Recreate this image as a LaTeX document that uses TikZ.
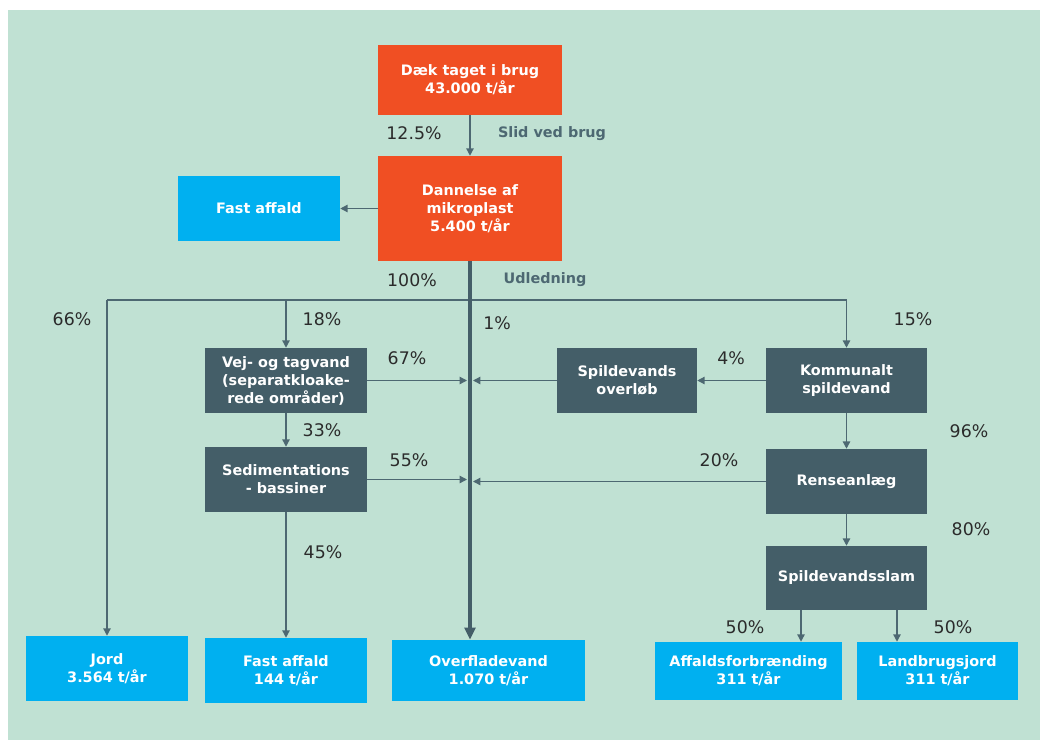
\documentclass[tikz,border=0pt]{standalone}
\usepackage{fontspec}
\setmainfont{DejaVu Sans}
\usetikzlibrary{arrows.meta,calc}
\definecolor{bg}{HTML}{C0E1D3}
\definecolor{orng}{HTML}{F04F23}
\definecolor{blu}{HTML}{00B0F0}
\definecolor{slate}{HTML}{445E68}
\definecolor{ln}{HTML}{4D6872}
\definecolor{pct}{HTML}{2B2B2B}
\tikzset{
  box/.style={inner sep=0pt, text=white, align=center, font=\fontsize{10.8}{13.5}\selectfont\bfseries},
  obox/.style={box, fill=orng, minimum width=138pt},
  bbox/.style={box, fill=blu},
  dbox/.style={box, fill=slate},
  arr/.style={draw=ln, line width=1pt, -{Triangle[length=5.5pt,width=5.5pt]}},
  thick arr/.style={draw=slate, line width=3.6pt, -{Triangle[length=9pt,width=8pt]}},
  pc/.style={text=pct, font=\fontsize{13}{15}\selectfont, inner sep=0pt},
  lbl/.style={text=ln, font=\fontsize{10.8}{13.5}\selectfont\bfseries, inner sep=0pt},
}
\begin{document}
\begin{tikzpicture}[x=0.75pt,y=-0.75pt]
\useasboundingbox (0,0) rectangle (1040,740);
\fill[bg] (8,10) rectangle (1040,740);

% boxes
\node[obox, minimum height=52.5pt] (dak) at (470,80) {Dæk taget i brug\\43.000 t/år};
\node[obox, minimum height=78.75pt] (dan) at (470,208.5) {Dannelse af\\mikroplast\\5.400 t/år};
\node[bbox, minimum width=121.5pt, minimum height=48.75pt] (fa1) at (259,208.5) {Fast affald};
\node[dbox, minimum width=121.5pt, minimum height=48.75pt] (vej) at (286,380.5) {Vej- og tagvand\\(separatkloake-\\rede områder)};
\node[dbox, minimum width=121.5pt, minimum height=48.75pt] (sed) at (286,479.5) {Sedimentations\\- bassiner};
\node[dbox, minimum width=105pt, minimum height=48.75pt] (spo) at (627,380.5) {Spildevands\\overløb};
\node[dbox, minimum width=120.75pt, minimum height=48.75pt] (kom) at (846.5,380.5) {Kommunalt\\spildevand};
\node[dbox, minimum width=120.75pt, minimum height=48.75pt] (ren) at (846.5,481.5) {Renseanlæg};
\node[dbox, minimum width=120.75pt, minimum height=48pt] (slam) at (846.5,578) {Spildevandsslam};
\node[bbox, minimum width=121.5pt, minimum height=48.75pt] (jord) at (107,668.5) {Jord\\3.564 t/år};
\node[bbox, minimum width=121.5pt, minimum height=48.75pt] (fa2) at (286,670.5) {Fast affald\\144 t/år};
\node[bbox, minimum width=144.75pt, minimum height=45.75pt] (ofv) at (488.5,670.5) {Overfladevand\\1.070 t/år};
\node[bbox, minimum width=140.25pt, minimum height=43.5pt] (aff) at (748.5,671) {Affaldsforbrænding\\311 t/år};
\node[bbox, minimum width=120.75pt, minimum height=43.5pt] (land) at (937.5,671) {Landbrugsjord\\311 t/år};

% connectors
\draw[arr] (dak.south) -- (dan.north);
\draw[arr] (dan.west) -- (fa1.east);
\coordinate (bus) at (0,300);
\draw[draw=ln, line width=1pt] (jord.north |- bus) -- (kom.north |- bus);
\draw[arr] (jord.north |- bus) -- (jord.north);
\draw[arr] (vej.north |- bus) -- (vej.north);
\draw[arr] (kom.north |- bus) -- (kom.north);
\draw[thick arr] (dan.south) -- (dan.south |- ofv.north);
\draw[arr] (vej.east) -- ($(dan.south |- vej.east)+(-3,0)$);
\draw[arr] (spo.west) -- ($(dan.south |- spo.west)+(3,0)$);
\draw[arr] (kom.west) -- (spo.east);
\draw[arr] (vej.south) -- (sed.north);
\draw[arr] (sed.east) -- ($(dan.south |- sed.east)+(-3,0)$);
\draw[arr] (ren.west) -- ($(dan.south |- ren.west)+(3,0)$);
\draw[arr] (kom.south) -- (ren.north);
\draw[arr] (ren.south) -- (slam.north);
\draw[arr] (sed.south) -- (fa2.north);
\coordinate (s1) at ($(slam.south)+(-45.5,0)$);
\coordinate (s2) at ($(slam.south)+(50.5,0)$);
\draw[arr] (s1) -- (s1 |- aff.north);
\draw[arr] (s2) -- (s2 |- land.north);

% labels
\node[pc] (p125) at (414,133) {12.5\%};
\node[lbl] (slid) at (552,134) {Slid ved brug};
\node[pc] (p100) at (412,280) {100\%};
\node[lbl] (udl) at (545,280) {Udledning};
\node[pc] (p66) at (72,319) {66\%};
\node[pc] (p18) at (322,319) {18\%};
\node[pc] (p1) at (497,323) {1\%};
\node[pc] (p15) at (913,319) {15\%};
\node[pc] (p67) at (407,358) {67\%};
\node[pc] (p4) at (731,358) {4\%};
\node[pc] (p33) at (322,430) {33\%};
\node[pc] (p96) at (969,431) {96\%};
\node[pc] (p55) at (409,460) {55\%};
\node[pc] (p20) at (719,460) {20\%};
\node[pc] (p80) at (971,529) {80\%};
\node[pc] (p45) at (323,552) {45\%};
\node[pc] (p50a) at (745,627) {50\%};
\node[pc] (p50b) at (953,627) {50\%};
\end{tikzpicture}
\end{document}
